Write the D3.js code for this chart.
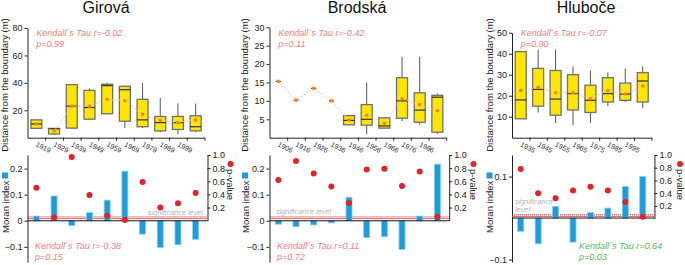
<!DOCTYPE html>
<html><head><meta charset="utf-8">
<script src="https://cdn.jsdelivr.net/npm/d3@7"></script>
<style>
html,body{margin:0;padding:0;background:#fff;}
svg{display:block;font-family:"Liberation Sans",Arial,Helvetica,sans-serif;}
</style></head><body>
<svg id="chart" width="685" height="265"></svg>
<script>
// ---------- DATA ----------
const panelTitles = ["Girová", "Brodská", "Hluboče"];

const girovaLabels = ["1919","1929","1939","1949","1959","1969","1979","1989","1999",""];
const girovaMin    = [7, 2, 7, 13, 17, 7, 7, 4, 2.5, 4];
const girovaQ1     = [6.8, 2.7, 7, 13.5, 17.5, 12, 8, 5, 6, 5];
const girovaMedian = [10, 6.5, 23, 22, 38, 35, 13, 11, 11, 8];
const girovaQ3     = [13, 6.8, 38.7, 34.5, 39, 37.5, 28, 15.5, 15.5, 16];
const girovaMax    = [13, 6.8, 38.7, 36, 40, 38, 40, 29, 25, 25];
const girovaMean   = [10, 4.9, 23, 23, 28, 27, 17, 12.5, 11, 13];
const girovaMoran  = [0.018, 0.095, -0.019, 0.032, 0.079, 0.19, -0.051, -0.102, -0.092, -0.071];
const girovaP      = [0.50, 0.05, 0.97, 0.39, 0.077, 0.01, 0.59, 0.20, 0.265, 0.42];

const brodskaLabels = ["1906","1916","1926","1936","1946","1956","1966","1976","1986",""];
const brodskaMin    = [15.3, 10.2, 13.4, 10, 3.5, 1, 2.5, 4.5, 3.5, 1];
const brodskaQ1     = [15.3, 10.2, 13.4, 10, 3.5, 3.4, 2.6, 5.3, 4.2, 1.5];
const brodskaMedian = [15.3, 10.2, 13.4, 10, 4.7, 5, 3.2, 10, 7.5, 11];
const brodskaQ3     = [15.3, 10.2, 13.4, 10, 6, 9, 5.4, 16.3, 12.2, 11.5];
const brodskaMax    = [15.3, 10.2, 13.4, 10, 6, 15, 5.5, 22, 22, 12];
const brodskaMean   = [15.3, 10.2, 13.4, 10, 4.8, 6.1, 3.9, 10.6, 9, 7.3];
const brodskaMoran  = [-0.013, -0.023, -0.016, -0.008, 0.09, -0.064, -0.061, -0.11, 0.018, 0.217];
const brodskaP      = [0.62, 0.91, 0.72, 0.52, 0.27, 0.78, 0.79, 0.53, 0.75, 0.06];

const hluboceLabels = ["1935","1945","1955","1965","1975","1985","1995",""];
const hluboceMin    = [9, 12, 7, 6, 7, 15, 17, 14];
const hluboceQ1     = [9, 15, 10.7, 13.2, 12, 17, 17.8, 17];
const hluboceMedian = [18, 23, 18.4, 21, 17.8, 21, 20.8, 27];
const hluboceQ3     = [41, 33, 32, 30, 25, 28.6, 26, 31];
const hluboceMax    = [41, 42, 42, 34, 32, 31, 33, 34];
const hluboceMean   = [22.5, 24, 21.4, 21.4, 18.6, 22.4, 20.8, 24.6];
const hluboceMoran  = [-0.032, -0.062, 0.028, -0.058, 0.0135, 0.024, 0.076, 0.1];
const hluboceP      = [0.78, 0.40, 0.32, 0.44, 0.50, 0.44, 0.26, 0.03];

const distTicks  = [[20,40,60,80],[5,10,15,20,25,30],[10,20,30,40,50]];
const distMax    = [80, 30, 50];
const moranTicks = [[-0.1,0,0.1,0.2],[-0.1,0,0.1,0.2],[-0.1,0.1]];
const pTicks     = [0.2, 0.4, 0.6, 0.8, 1.0];
const sigLevel   = 0.05;

const kendallTopR = ["Kendall´s Tau r=-0.02","Kendall´s Tau r=-0.42","Kendall´s Tau r=-0.07"];
const kendallTopP = ["p=0.99","p=0.11","p=0.90"];
const kendallBotR = ["Kendall´s Tau r=-0.38","Kendall´s Tau r=0.11","Kendall´s Tau r=0.64"];
const kendallBotP = ["p=0.15","p=0.72","p=0.03"];

// ---------- LAYOUT ----------
const svg = d3.select("#chart");
const C = {yellow:"#FFE600", boxStroke:"#707070", dark:"#333", mean:"#F5821F", meanLine:"#F8BE94",
  blue:"#1C9CDA", blueEdge:"#86CDEE", red:"#E3222A", salmon:"#F17F7F", green:"#5BB85B", grey:"#b4b4b4"};

const layout = [
  {x0:27.5, bw:17.7, titleX:106, yTop:28,   moranDom:[-0.158,0.252], ylabX:5,   pLabX:230.5, sigX:203, sigAnchor:"end", sigLines:["significance level"], sigY:215, botKX:35, botKColor:C.salmon},
  {x0:269.5,bw:17.67,titleX:357, yTop:27.3, moranDom:[-0.158,0.252], ylabX:245, pLabX:473.5, sigX:276, sigAnchor:"start", sigLines:["significance level"], sigY:214, botKX:277, botKColor:C.salmon},
  {x0:512,  bw:17.43,titleX:586, yTop:32.7, moranDom:[-0.106,0.152], ylabX:489.5, pLabX:680, sigX:515, sigAnchor:"start", sigLines:["significance","level"], sigY:204, botKX:579, botKColor:C.green}
];
const topBase = 137.7, botTop = 155, botBottom = 262, pZero = [220.7, 220.7, 218.6];

const data = [
  {labels:girovaLabels, min:girovaMin, q1:girovaQ1, med:girovaMedian, q3:girovaQ3, max:girovaMax, mean:girovaMean, moran:girovaMoran, p:girovaP},
  {labels:brodskaLabels, min:brodskaMin, q1:brodskaQ1, med:brodskaMedian, q3:brodskaQ3, max:brodskaMax, mean:brodskaMean, moran:brodskaMoran, p:brodskaP},
  {labels:hluboceLabels, min:hluboceMin, q1:hluboceQ1, med:hluboceMedian, q3:hluboceQ3, max:hluboceMax, mean:hluboceMean, moran:hluboceMoran, p:hluboceP}
];

function styleAxis(g){
  g.selectAll("path.domain").attr("stroke","#222").attr("stroke-width",1);
  g.selectAll(".tick line").attr("stroke","#222");
  g.selectAll(".tick text").attr("fill","#222").style("font-size","9px").style("font-family","'Liberation Sans',Arial,sans-serif");
}

data.forEach((d, k) => {
  const L = layout[k];
  const n = d.labels.length;
  const xEnd = L.x0 + n * L.bw;
  const band = d3.scaleBand().domain(d3.range(n)).range([L.x0, xEnd]);
  const cx = i => band(i) + band.bandwidth() / 2;
  const g = svg.append("g");

  // title
  g.append("text").attr("x", L.titleX).attr("y", 12.5).attr("text-anchor","middle")
    .style("font-size","16px").attr("fill","#111").text(panelTitles[k]);

  // ----- top box plot -----
  const y = d3.scaleLinear().domain([0, distMax[k]]).range([topBase, L.yTop]);
  const ya = g.append("g").attr("transform",`translate(${L.x0},0)`)
    .call(d3.axisLeft(y).tickValues(distTicks[k]).tickSize(3).tickSizeOuter(0).tickPadding(2));
  styleAxis(ya);
  const xb = d3.scaleLinear().domain([0, n]).range([L.x0, xEnd]);
  const xa = g.append("g").attr("transform",`translate(0,${topBase})`)
    .call(d3.axisBottom(xb).tickValues(d3.range(1, n + 1)).tickSize(3).tickSizeOuter(0).tickFormat(""));
  styleAxis(xa);

  d.labels.forEach((lab, i) => {
    g.append("text").attr("transform",`translate(${cx(i) - 1},146) rotate(27)`)
      .style("font-size","7px").attr("fill","#333").text(lab);
  });

  g.append("text").attr("transform",`translate(${L.ylabX},85) rotate(-90)`).attr("dy","0.35em")
    .attr("text-anchor","middle").style("font-size","9.5px").attr("fill","#222")
    .text("Distance from the boundary (m)");

  const bw = 11;
  d3.range(n).forEach(i => {
    const c = cx(i);
    if (d.q3[i] === d.q1[i]) {
      g.append("line").attr("x1", c - 2.5).attr("x2", c + 2.5).attr("y1", y(d.med[i])).attr("y2", y(d.med[i]))
        .attr("stroke", C.dark).attr("stroke-width", 1.2);
      return;
    }
    g.append("line").attr("x1", c).attr("x2", c).attr("y1", y(d.max[i])).attr("y2", y(d.q3[i]))
      .attr("stroke", "#555").attr("stroke-width", 1);
    g.append("line").attr("x1", c).attr("x2", c).attr("y1", y(d.q1[i])).attr("y2", y(d.min[i]))
      .attr("stroke", "#555").attr("stroke-width", 1);
    g.append("rect").attr("x", c - bw / 2).attr("width", bw).attr("y", y(d.q3[i]))
      .attr("height", y(d.q1[i]) - y(d.q3[i])).attr("fill", C.yellow)
      .attr("stroke", C.boxStroke).attr("stroke-width", 1.3);
    g.append("line").attr("x1", c - bw / 2).attr("x2", c + bw / 2).attr("y1", y(d.med[i])).attr("y2", y(d.med[i]))
      .attr("stroke", C.dark).attr("stroke-width", 1.2);
  });
  g.append("path").datum(d.mean).attr("fill","none").attr("stroke", C.meanLine).attr("stroke-width", 0.9)
    .attr("stroke-dasharray","2,1.5")
    .attr("d", d3.line().x((v, i) => cx(i)).y(v => y(v)));
  g.selectAll(null).data(d.mean).enter().append("circle")
    .attr("cx", (v, i) => cx(i)).attr("cy", v => y(v)).attr("r", 1.8).attr("fill", C.mean);

  g.append("text").attr("x", cx(0)).attr("y", 35.5).style("font-size","9px").style("font-style","italic")
    .attr("fill", C.salmon).text(kendallTopR[k]);
  g.append("text").attr("x", cx(0)).attr("y", 46.5).style("font-size","9px").style("font-style","italic")
    .attr("fill", C.salmon).text(kendallTopP[k]);

  // ----- bottom Moran / p-value -----
  const xR = xEnd + 3;
  const ym = d3.scaleLinear().domain(L.moranDom).range([botBottom, botTop]);
  const yp = d3.scaleLinear().domain([0, 1]).range([pZero[k], botTop]);

  const ma = g.append("g").attr("transform",`translate(${L.x0},0)`)
    .call(d3.axisLeft(ym).tickValues(moranTicks[k]).tickSize(3).tickSizeOuter(0).tickPadding(2)
      .tickFormat(v => v === 0 ? "0" : d3.format(".1f")(v)));
  styleAxis(ma);
  const pa = g.append("g").attr("transform",`translate(${xR},0)`)
    .call(d3.axisRight(yp).tickValues(pTicks).tickSize(3).tickSizeOuter(0).tickPadding(2).tickFormat(d3.format(".1f")));
  styleAxis(pa);

  // significance lines
  g.append("line").attr("x1", L.x0).attr("x2", xR).attr("y1", yp(sigLevel) + 1).attr("y2", yp(sigLevel) + 1)
    .attr("stroke", "#EE5A5E").attr("stroke-width", 1);
  g.append("line").attr("x1", L.x0).attr("x2", xR).attr("y1", yp(sigLevel) - 0.6).attr("y2", yp(sigLevel) - 0.6)
    .attr("stroke", "#C0141C").attr("stroke-width", 0.9).attr("stroke-dasharray","1,1");
  L.sigLines.forEach((s, j) => {
    g.append("text").attr("x", L.sigX).attr("y", L.sigY + j * 7.8).attr("text-anchor", L.sigAnchor)
      .style("font-size","7.3px").style("font-style","italic").attr("fill", C.grey).text(s);
  });

  // bars
  g.selectAll(null).data(d.moran).enter().append("rect")
    .attr("x", (v, i) => cx(i) - 3).attr("width", 6)
    .attr("y", v => Math.min(ym(v), ym(0))).attr("height", v => Math.abs(ym(v) - ym(0)))
    .attr("fill", C.blue).attr("stroke", C.blueEdge).attr("stroke-width", 0.8);

  // zero line
  g.append("line").attr("x1", L.x0).attr("x2", xR).attr("y1", ym(0)).attr("y2", ym(0))
    .attr("stroke", "#111").attr("stroke-width", 1);

  // p dots
  g.selectAll(null).data(d.p).enter().append("circle")
    .attr("cx", (v, i) => cx(i)).attr("cy", v => yp(v)).attr("r", 3).attr("fill", C.red);

  // axis titles with legend glyphs
  g.append("rect").attr("x", L.ylabX - 3).attr("y", 172.5).attr("width", 6).attr("height", 6).attr("fill", C.blue);
  g.append("text").attr("transform",`translate(${L.ylabX + 0.5},233) rotate(-90)`).attr("dy","0.35em")
    .style("font-size","9.5px").attr("fill","#222").text("Moran index");
  g.append("circle").attr("cx", L.pLabX).attr("cy", 164).attr("r", 3).attr("fill", C.red);
  g.append("text").attr("transform",`translate(${L.pLabX},169) rotate(90)`).attr("dy","0.35em")
    .style("font-size","9.5px").attr("fill","#222").text("p-value");

  g.append("text").attr("x", L.botKX).attr("y", 249).style("font-size","9px").style("font-style","italic")
    .attr("fill", L.botKColor).text(kendallBotR[k]);
  g.append("text").attr("x", L.botKX).attr("y", 259.5).style("font-size","9px").style("font-style","italic")
    .attr("fill", L.botKColor).text(kendallBotP[k]);
});
</script>
</body></html>
